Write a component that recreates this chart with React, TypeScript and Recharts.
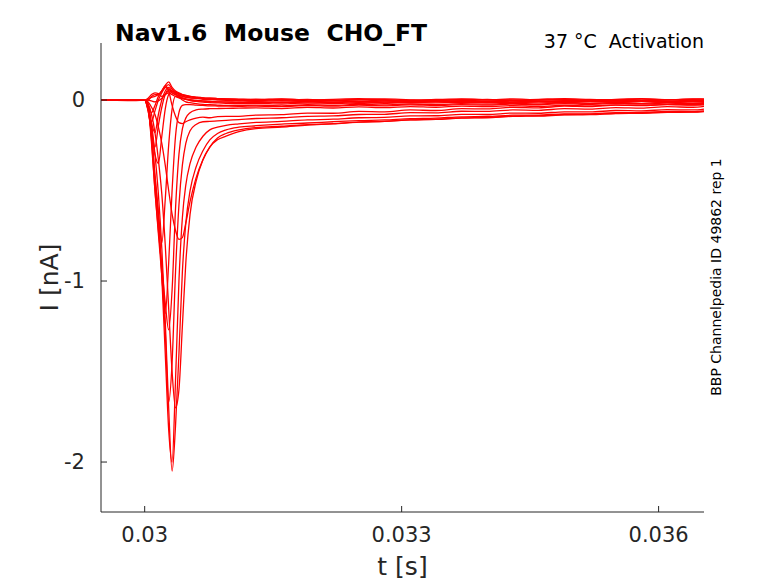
import React from 'react';
import { LineChart, Line, XAxis, YAxis, Label } from 'recharts';

// time samples [s]
const times = [
  0.02949, 0.0298, 0.03, 0.03004, 0.03008, 0.03012, 0.03016, 0.0302, 0.03024, 0.03028,
  0.03032, 0.03036, 0.0304, 0.03044, 0.03048, 0.03053, 0.0306, 0.03068, 0.03076, 0.03085,
  0.03095, 0.0311, 0.0313, 0.0316, 0.0319, 0.0322, 0.0325, 0.0328, 0.0331, 0.0334,
  0.0337, 0.034, 0.0343, 0.0346, 0.0349, 0.0352, 0.0355, 0.0358, 0.0361, 0.0364, 0.03653,
];

// current traces [nA]
const traceF1 = [0.002, -0.003, 0.0, 0.01, 0.03, 0.04, 0.035, 0.02, 0.03, 0.05, 0.04, 0.03, 0.025, 0.02, 0.015, 0.012, 0.01, 0.008, 0.006, 0.005, 0.004, 0.003, 0.005, 0.001, 0.004, -0.002, 0.003, 0.006, 0.001, -0.002, 0.004, 0.002, 0.006, 0.001, 0.003, -0.001, 0.004, 0.007, 0.002, 0.005, 0.006];
const traceF2 = [-0.002, 0.001, 0.0, 0.005, 0.015, 0.02, 0.03, 0.05, 0.07, 0.06, 0.05, 0.04, 0.035, 0.03, 0.025, 0.02, 0.015, 0.012, 0.01, 0.008, 0.006, 0.004, 0.002, 0.006, 0.0, 0.004, 0.007, 0.002, -0.001, 0.003, 0.006, 0.002, 0.0, 0.004, 0.008, 0.003, 0.001, 0.005, 0.002, 0.006, 0.004];
const traceF3 = [0.0, 0.002, 0.001, 0.0, -0.005, -0.01, -0.005, 0.01, 0.03, 0.04, 0.03, 0.02, 0.012, 0.008, 0.004, 0.0, -0.004, -0.006, -0.008, -0.01, -0.01, -0.012, -0.009, -0.014, -0.008, -0.011, -0.006, -0.012, -0.009, -0.004, -0.01, -0.007, -0.012, -0.005, -0.009, -0.006, -0.011, -0.004, -0.008, -0.006, -0.009];
const traceD1 = [0.001, -0.002, 0.0, -0.03, -0.07, -0.03, 0.02, 0.05, 0.08, 0.1, 0.07, 0.05, 0.04, 0.03, 0.025, 0.02, 0.016, 0.012, 0.01, 0.008, 0.006, 0.004, 0.002, 0.005, 0.0, -0.002, 0.003, 0.0, -0.004, 0.002, -0.001, 0.003, -0.003, 0.0, 0.002, -0.002, 0.001, -0.003, 0.0, 0.002, -0.001];
const traceD2 = [-0.001, 0.002, 0.0, -0.05, -0.12, -0.06, 0.0, 0.04, 0.07, 0.085, 0.06, 0.045, 0.035, 0.028, 0.022, 0.018, 0.013, 0.01, 0.006, 0.004, 0.002, 0.0, -0.003, 0.001, -0.004, -0.002, -0.006, -0.001, -0.004, -0.008, -0.003, -0.005, -0.002, -0.007, -0.004, -0.001, -0.005, -0.003, -0.006, -0.002, -0.004];
const traceD3 = [0.0, 0.001, -0.001, -0.05, -0.13, -0.18, -0.08, 0.0, 0.05, 0.07, 0.05, 0.04, 0.03, 0.022, 0.016, 0.012, 0.008, 0.004, 0.002, 0.0, -0.002, -0.004, -0.006, -0.003, -0.008, -0.005, -0.01, -0.006, -0.009, -0.004, -0.008, -0.011, -0.006, -0.009, -0.005, -0.008, -0.004, -0.007, -0.01, -0.006, -0.008];
const traceD4 = [0.002, 0.0, 0.001, -0.06, -0.17, -0.26, -0.14, -0.04, 0.03, 0.06, 0.04, 0.03, 0.02, 0.012, 0.006, 0.002, -0.002, -0.005, -0.008, -0.01, -0.012, -0.013, -0.015, -0.011, -0.016, -0.013, -0.018, -0.012, -0.015, -0.01, -0.014, -0.012, -0.016, -0.01, -0.013, -0.009, -0.012, -0.008, -0.011, -0.007, -0.01];
const traceD5 = [0.0, -0.001, 0.0, -0.06, -0.18, -0.3, -0.35, -0.2, -0.05, 0.03, 0.05, 0.035, 0.02, 0.01, 0.003, -0.003, -0.008, -0.012, -0.014, -0.016, -0.018, -0.02, -0.018, -0.022, -0.016, -0.019, -0.014, -0.018, -0.013, -0.016, -0.011, -0.015, -0.012, -0.01, -0.014, -0.009, -0.012, -0.008, -0.011, -0.007, -0.009];
const traceC1 = [0.0, 0.002, 0.0, -0.04, -0.2, -0.42, -0.62, -0.79, -0.55, -0.25, -0.05, 0.02, 0.015, 0.0, -0.01, -0.015, -0.02, -0.024, -0.026, -0.028, -0.03, -0.03, -0.028, -0.032, -0.026, -0.029, -0.024, -0.027, -0.022, -0.025, -0.02, -0.023, -0.018, -0.021, -0.016, -0.019, -0.015, -0.018, -0.013, -0.016, -0.014];
const traceC2 = [0.001, -0.001, 0.0, -0.04, -0.24, -0.5, -0.74, -0.97, -1.18, -0.9, -0.5, -0.2, -0.07, -0.03, -0.025, -0.025, -0.028, -0.03, -0.032, -0.033, -0.034, -0.035, -0.033, -0.036, -0.03, -0.034, -0.028, -0.032, -0.027, -0.03, -0.025, -0.028, -0.022, -0.026, -0.02, -0.024, -0.019, -0.022, -0.017, -0.02, -0.018];
const traceC3 = [0.0, 0.001, 0.0, -0.04, -0.22, -0.5, -0.72, -0.92, -1.12, -1.27, -1.05, -0.6, -0.3, -0.16, -0.1, -0.07, -0.055, -0.05, -0.048, -0.047, -0.046, -0.045, -0.043, -0.047, -0.04, -0.044, -0.038, -0.042, -0.036, -0.04, -0.034, -0.037, -0.031, -0.035, -0.029, -0.032, -0.027, -0.03, -0.025, -0.028, -0.026];
const traceS1 = [0.0, -0.002, 0.001, 0.0, 0.02, 0.03, 0.03, 0.05, 0.08, 0.05, -0.03, -0.09, -0.125, -0.13, -0.12, -0.11, -0.1, -0.095, -0.098, -0.092, -0.09, -0.09, -0.083, -0.081, -0.072, -0.073, -0.063, -0.065, -0.055, -0.058, -0.048, -0.049, -0.04, -0.043, -0.034, -0.037, -0.028, -0.031, -0.024, -0.026, -0.022];
const traceC4 = [0.0, 0.002, -0.001, -0.03, -0.2, -0.45, -0.66, -0.95, -1.28, -1.67, -1.45, -0.95, -0.58, -0.36, -0.24, -0.17, -0.135, -0.12, -0.118, -0.115, -0.112, -0.108, -0.102, -0.098, -0.09, -0.088, -0.08, -0.079, -0.07, -0.071, -0.062, -0.063, -0.055, -0.057, -0.048, -0.05, -0.042, -0.045, -0.037, -0.04, -0.035];
const traceC5 = [0.001, 0.0, 0.0, -0.03, -0.18, -0.42, -0.64, -0.98, -1.4, -1.82, -2.0, -1.55, -1.0, -0.65, -0.47, -0.35, -0.26, -0.2, -0.165, -0.15, -0.14, -0.132, -0.124, -0.118, -0.11, -0.106, -0.098, -0.096, -0.088, -0.087, -0.079, -0.08, -0.072, -0.073, -0.065, -0.066, -0.058, -0.06, -0.053, -0.055, -0.05];
const traceC6 = [0.0, 0.001, 0.0, -0.03, -0.13, -0.3, -0.52, -0.82, -1.22, -1.7, -2.05, -1.8, -1.4, -0.95, -0.68, -0.5, -0.37, -0.28, -0.22, -0.185, -0.165, -0.15, -0.142, -0.133, -0.127, -0.12, -0.114, -0.11, -0.103, -0.1, -0.093, -0.091, -0.084, -0.083, -0.076, -0.076, -0.07, -0.069, -0.063, -0.064, -0.06];
const traceC7 = [0.0, -0.001, 0.001, -0.02, -0.08, -0.18, -0.33, -0.52, -0.8, -1.15, -1.5, -1.7, -1.6, -1.25, -0.9, -0.63, -0.45, -0.33, -0.26, -0.21, -0.185, -0.165, -0.152, -0.145, -0.136, -0.13, -0.122, -0.118, -0.11, -0.107, -0.1, -0.098, -0.09, -0.089, -0.082, -0.081, -0.075, -0.073, -0.068, -0.067, -0.064];
const traceC8 = [0.0, 0.002, 0.0, -0.01, -0.04, -0.08, -0.15, -0.24, -0.36, -0.5, -0.63, -0.72, -0.77, -0.76, -0.68, -0.56, -0.43, -0.33, -0.26, -0.22, -0.2, -0.175, -0.158, -0.15, -0.138, -0.132, -0.122, -0.118, -0.11, -0.106, -0.099, -0.096, -0.089, -0.086, -0.08, -0.078, -0.073, -0.071, -0.067, -0.066, -0.063];

const traces = [
  traceF1, traceF2, traceF3, traceD1, traceD2, traceD3, traceD4, traceD5,
  traceC1, traceC2, traceC3, traceS1, traceC4, traceC5, traceC6, traceC7, traceC8,
];

const xTicks = [0.03, 0.033, 0.036];
const yTicks = [-2, -1, 0];
const xDomain = [0.02949, 0.03653];
const yDomain = [-2.276, 0.315];

const titleText = 'Nav1.6  Mouse  CHO_FT';
const conditionText = '37 °C  Activation';
const sourceText = 'BBP Channelpedia ID 49862 rep 1';
const xLabel = 't [s]';
const yLabel = 'I [nA]';

const data = times.map((t, i) => {
  const row: Record<string, number> = { t };
  traces.forEach((tr, k) => {
    row['s' + k] = tr[i];
  });
  return row;
});

const FONT = 'DejaVu Sans';
const AX = '#262626';

export default function App() {
  return (
    <div style={{ position: 'absolute', left: 0, top: 0, width: 778, height: 583, background: '#fff' }}>
      <LineChart width={778} height={583} data={data} margin={{ top: 43, right: 74, bottom: 0, left: 0 }}>
        <XAxis
          dataKey="t"
          type="number"
          domain={xDomain}
          ticks={xTicks}
          interval={0}
          allowDataOverflow
          height={71}
          tickSize={-6}
          tickMargin={21}
          stroke={AX}
          tick={{ fill: AX, fontSize: 21, fontFamily: FONT }}
          tickFormatter={(v: number) => String(v)}
        >
          <Label
            content={({ viewBox }: any) => (
              <text
                x={viewBox.x + viewBox.width / 2}
                y={viewBox.y + viewBox.height - 8}
                textAnchor="middle"
                fontSize={25}
                fill={AX}
                fontFamily={FONT}
              >
                {xLabel}
              </text>
            )}
          />
        </XAxis>
        <YAxis
          type="number"
          domain={yDomain}
          ticks={yTicks}
          interval={0}
          allowDataOverflow
          width={101}
          tickSize={-6}
          tickMargin={22}
          stroke={AX}
          tick={{ fill: AX, fontSize: 21, fontFamily: FONT }}
          tickFormatter={(v: number) => String(v)}
        >
          <Label
            content={({ viewBox }: any) => (
              <text
                transform={`translate(${viewBox.x + 58}, ${viewBox.y + viewBox.height / 2}) rotate(-90)`}
                textAnchor="middle"
                fontSize={25}
                fill={AX}
                fontFamily={FONT}
              >
                {yLabel}
              </text>
            )}
          />
        </YAxis>
        {traces.map((_, k) => (
          <Line
            key={k}
            dataKey={'s' + k}
            type="monotone"
            stroke="#ff0000"
            strokeWidth={1.3}
            dot={false}
            activeDot={false}
            isAnimationActive={false}
          />
        ))}
      </LineChart>
      <svg
        width={778}
        height={583}
        style={{ position: 'absolute', left: 0, top: 0, pointerEvents: 'none' }}
      >
        <text x={115} y={41} fontSize={23.5} fontWeight="bold" fill="#000" fontFamily={FONT} style={{ whiteSpace: 'pre' }}>
          {titleText}
        </text>
        <text x={704} y={48} fontSize={19} textAnchor="end" fill="#000" fontFamily={FONT} style={{ whiteSpace: 'pre' }}>
          {conditionText}
        </text>
        <text
          transform="translate(721, 277) rotate(-90)"
          fontSize={14}
          textAnchor="middle"
          fill="#000"
          fontFamily={FONT}
        >
          {sourceText}
        </text>
      </svg>
    </div>
  );
}
